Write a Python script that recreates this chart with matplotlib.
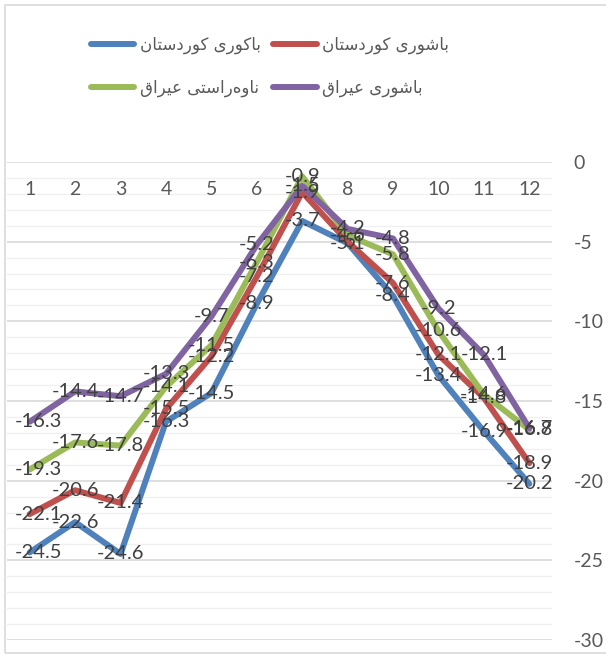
import matplotlib
matplotlib.use("Agg")
import matplotlib.pyplot as plt
from matplotlib.patches import Rectangle
from matplotlib.lines import Line2D

# ---------------- data ----------------
months = [1, 2, 3, 4, 5, 6, 7, 8, 9, 10, 11, 12]
series_names = ["باکوری کوردستان", "باشوری کوردستان", "ناوەراستی عێراق", "باشوری عێراق"]
north_kurdistan = [-24.5, -22.6, -24.6, -16.3, -14.5, -8.9, -3.7, -5.1, -8.4, -13.4, -16.9, -20.2]
south_kurdistan = [-22.1, -20.6, -21.4, -15.5, -12.2, -7.2, -1.9, -5.0, -7.6, -12.1, -14.8, -18.9]
central_iraq = [-19.3, -17.6, -17.8, -14.1, -11.5, -6.3, -0.9, -4.6, -5.8, -10.6, -14.6, -16.8]
south_iraq = [-16.3, -14.4, -14.7, -13.3, -9.7, -5.2, -1.5, -4.2, -4.8, -9.2, -12.1, -16.7]
y_ticks = [0, -5, -10, -15, -20, -25, -30]
colors = ["#4F81BD", "#C0504D", "#9BBB59", "#8064A2"]

# ---------------- simple Arabic-script shaping for display ----------------
FORMS = {
    'ب': ('\uFE8F', '\uFE90', '\uFE91', '\uFE92'),
    'ا': ('\uFE8D', '\uFE8E', None, None),
    'ک': ('\uFB8E', '\uFB8F', '\uFB90', '\uFB91'),
    'و': ('\uFEED', '\uFEEE', None, None),
    'ر': ('\uFEAD', '\uFEAE', None, None),
    'ی': ('\uFBFC', '\uFBFD', '\uFBFE', '\uFBFF'),
    'د': ('\uFEA9', '\uFEAA', None, None),
    'س': ('\uFEB1', '\uFEB2', '\uFEB3', '\uFEB4'),
    'ت': ('\uFE95', '\uFE96', '\uFE97', '\uFE98'),
    'ن': ('\uFEE5', '\uFEE6', '\uFEE7', '\uFEE8'),
    'ش': ('\uFEB5', '\uFEB6', '\uFEB7', '\uFEB8'),
    'ع': ('\uFEC9', '\uFECA', '\uFECB', '\uFECC'),
    'ق': ('\uFED5', '\uFED6', '\uFED7', '\uFED8'),
    'ە': ('\u06D5', '\u06D5', None, None),
    'ێ': ('\u06CE', '\uFBFD', '\uFBFE', '\uFBFF'),
}


def shape(text):
    out = []
    chars = list(text)
    for i, c in enumerate(chars):
        if c not in FORMS:
            out.append(c)
            continue
        prev = chars[i - 1] if i > 0 else None
        nxt = chars[i + 1] if i + 1 < len(chars) else None
        jp = prev in FORMS and FORMS[prev][2] is not None
        jn = nxt in FORMS and FORMS[c][2] is not None
        iso, fin, ini, med = FORMS[c]
        out.append(med if (jp and jn) else fin if jp else ini if jn else iso)
    return "".join(reversed(out))


# ---------------- figure ----------------
W, H = 606, 656
fig = plt.figure(figsize=(W / 100, H / 100), dpi=100)
fig.patches.append(Rectangle((5 / W, 3 / H), 1.2, 648 / H, transform=fig.transFigure,
                             fill=False, edgecolor="#D9D9D9", linewidth=1.2))

ax = fig.add_axes([7 / W, 16 / H, 545 / W, 478 / H])
ax.set_xlim(0.5, 12.5)
ax.set_ylim(-30, 0)
for s in ax.spines.values():
    s.set_visible(False)

ax.set_yticks(y_ticks)
ax.set_yticks([v for v in range(-30, 1) if v % 5 != 0], minor=True)
ax.yaxis.tick_right()
ax.set_yticklabels([str(v) for v in y_ticks])
ax.tick_params(axis="y", which="both", length=0, pad=15.5, labelsize=14, labelcolor="#595959")
for lab in ax.get_yticklabels():
    lab.set_fontfamily("Lato")
    lab.set_horizontalalignment("left")
ax.set_xticks([])
ax.grid(axis="y", which="major", color="#D9D9D9", linewidth=1.2)
ax.grid(axis="y", which="minor", color="#F0F0F0", linewidth=1.0)
ax.set_axisbelow(True)

# category labels under the zero line
for m in months:
    ax.annotate(str(m), (m, 0), xytext=(0, -20), textcoords="offset points",
                ha="center", va="center", fontsize=14, color="#595959", family="Lato")

all_series = [north_kurdistan, south_kurdistan, central_iraq, south_iraq]
handles = []
for vals, col, name in zip(all_series, colors, series_names):
    ax.plot(months, vals, color=col, linewidth=4.3, solid_joinstyle="round",
            solid_capstyle="round", zorder=3)
    handles.append(Line2D([], [], color=col, linewidth=4.3, solid_capstyle="round",
                          label=shape(name)))

for vals in all_series:
    for i, (m, v) in enumerate(zip(months, vals)):
        dx = 6 if i == 0 else 0
        ax.annotate(f"{v:g}", (m, v), xytext=(dx, 0), textcoords="offset points",
                    ha="center", va="center", fontsize=14.5, color="#404040",
                    family="Lato", zorder=5, annotation_clip=False)

# legend: row1 blue, red ; row2 green, purple
order = [0, 2, 1, 3]
leg = fig.legend([handles[i] for i in order], [handles[i].get_label() for i in order],
                 ncol=2, loc="center", bbox_to_anchor=(270 / W, 1 - 66.5 / H),
                 frameon=False, handlelength=2.6, handletextpad=0.35, columnspacing=0.75,
                 labelspacing=1.5, prop={"family": "DejaVu Sans", "size": 12})
for t in leg.get_texts():
    t.set_color("#595959")

fig.savefig("out.png", dpi=100)
